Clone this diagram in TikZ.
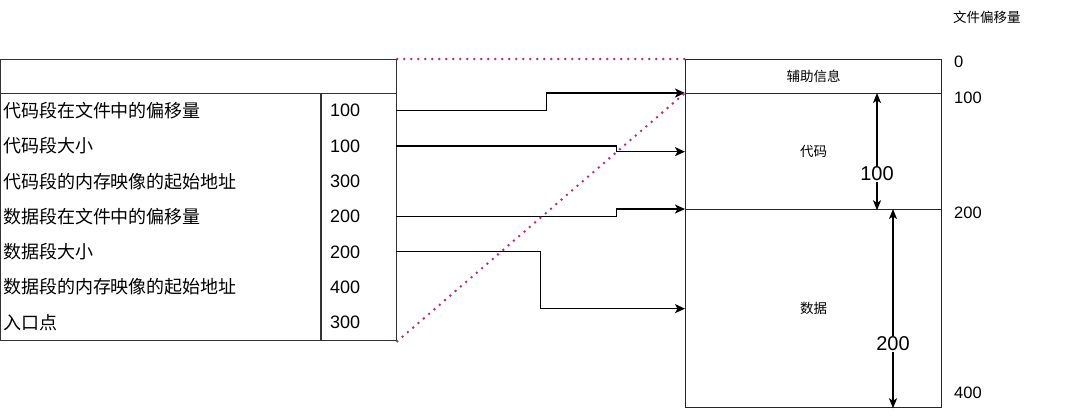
\documentclass[tikz,border=0pt]{standalone}
\usepackage{fontspec}
\setmainfont{Liberation Sans}
\newfontfamily\cjk{Noto Sans CJK SC}
\usetikzlibrary{arrows.meta,calc}
\begin{document}
\begin{tikzpicture}[x=1pt,y=-1pt,
  tbl/.style={draw=black!80,line width=1.3pt,inner sep=0pt},
  boxseg/.style={draw=black!85,line width=1.3pt,inner sep=0pt,minimum width=256pt,anchor=north west},
  rowcell/.style={inner sep=0pt,minimum width=396pt,minimum height=35.29pt},
  txt/.style={inner sep=0pt,anchor=west,font=\fontsize{18}{20}\selectfont},
  side/.style={inner sep=0pt,anchor=west,font=\fontsize{16.5}{18}\selectfont},
  lbl/.style={inner sep=0pt,font=\cjk\fontsize{13.5}{15}\selectfont},
  conn/.style={draw=black,line width=1.3pt,-{Stealth[length=10pt,width=9pt,inset=2.5pt]}},
  dim/.style={draw=black,line width=1.3pt,{Stealth[length=10pt,width=8pt,inset=2.5pt]}-{Stealth[length=10pt,width=8pt,inset=2.5pt]}},
  dotline/.style={draw={rgb,255:red,185;green,45;blue,120},line width=2.8pt,dash pattern=on 0pt off 7pt,line cap=round}
]
\useasboundingbox (0,0) rectangle (1080,418);
% left table
\node[tbl,minimum width=396pt,minimum height=34pt,anchor=north west] (head) at (0,59) {};
\node[tbl,minimum width=396pt,minimum height=247pt,anchor=north west] (body) at (0,93) {};
\draw[draw=black!80,line width=1.3pt] ($(body.north west)+(321,0)$) -- ($(body.south west)+(321,0)$);
\foreach \i/\t/\v in {1/代码段在文件中的偏移量/100,2/代码段大小/100,3/代码段的内存映像的起始地址/300,4/数据段在文件中的偏移量/200,5/数据段大小/200,6/数据段的内存映像的起始地址/400,7/入口点/300}{
  \node[rowcell] (row\i) at (198,{93+35.29*(\i-0.5)}) {};
  \node[txt] (t\i) at ($(row\i.west)+(3,0)$) {\cjk \t};
  \node[txt] (v\i) at ($(row\i.west)+(330,0)$) {\v};
}
% right box
\node[boxseg,minimum height=34pt] (aux) at (685,59) {};
\node[boxseg,minimum height=116pt] (code) at (685,93) {};
\node[boxseg,minimum height=198pt] (data) at (685,209) {};
\node[lbl] (auxl) at (aux.center) {辅助信息};
\node[lbl] (codel) at (code.center) {代码};
\node[lbl] (datal) at (data.center) {数据};
% connectors
\draw[conn] (row1.east) -- ++(150,0) |- (code.north west);
\draw[conn] (row2.east) -- ++(220,0) |- (code.west);
\draw[conn] (row4.east) -- ++(220,0) |- (data.north west);
\draw[conn] (row5.east) -- ++(144,0) |- (data.west);
% dotted projection lines
\draw[dotline] (head.north east) -- (aux.north west);
\draw[dotline] (body.south east) -- (code.north west);
% dimension arrows
\draw[dim] ($(code.north west)+(192,0)$) -- ($(code.south west)+(192,0)$)
  node[pos=0.69,fill=white,inner sep=1pt,font=\fontsize{20}{22}\selectfont] (d1) {100};
\draw[dim] ($(data.north west)+(208,0)$) -- ($(data.south west)+(208,0)$)
  node[pos=0.677,fill=white,inner sep=1pt,font=\fontsize{20}{22}\selectfont] (d2) {200};
% offset scale
\node[inner sep=0pt,anchor=west,font=\cjk\fontsize{13.5}{15}\selectfont] (title) at (953,17) {文件偏移量};
\node[side] (o0) at (954,62) {0};
\node[side] (o1) at (954,98) {100};
\node[side] (o2) at (954,213) {200};
\node[side] (o4) at (954,393) {400};
\end{tikzpicture}
\end{document}
